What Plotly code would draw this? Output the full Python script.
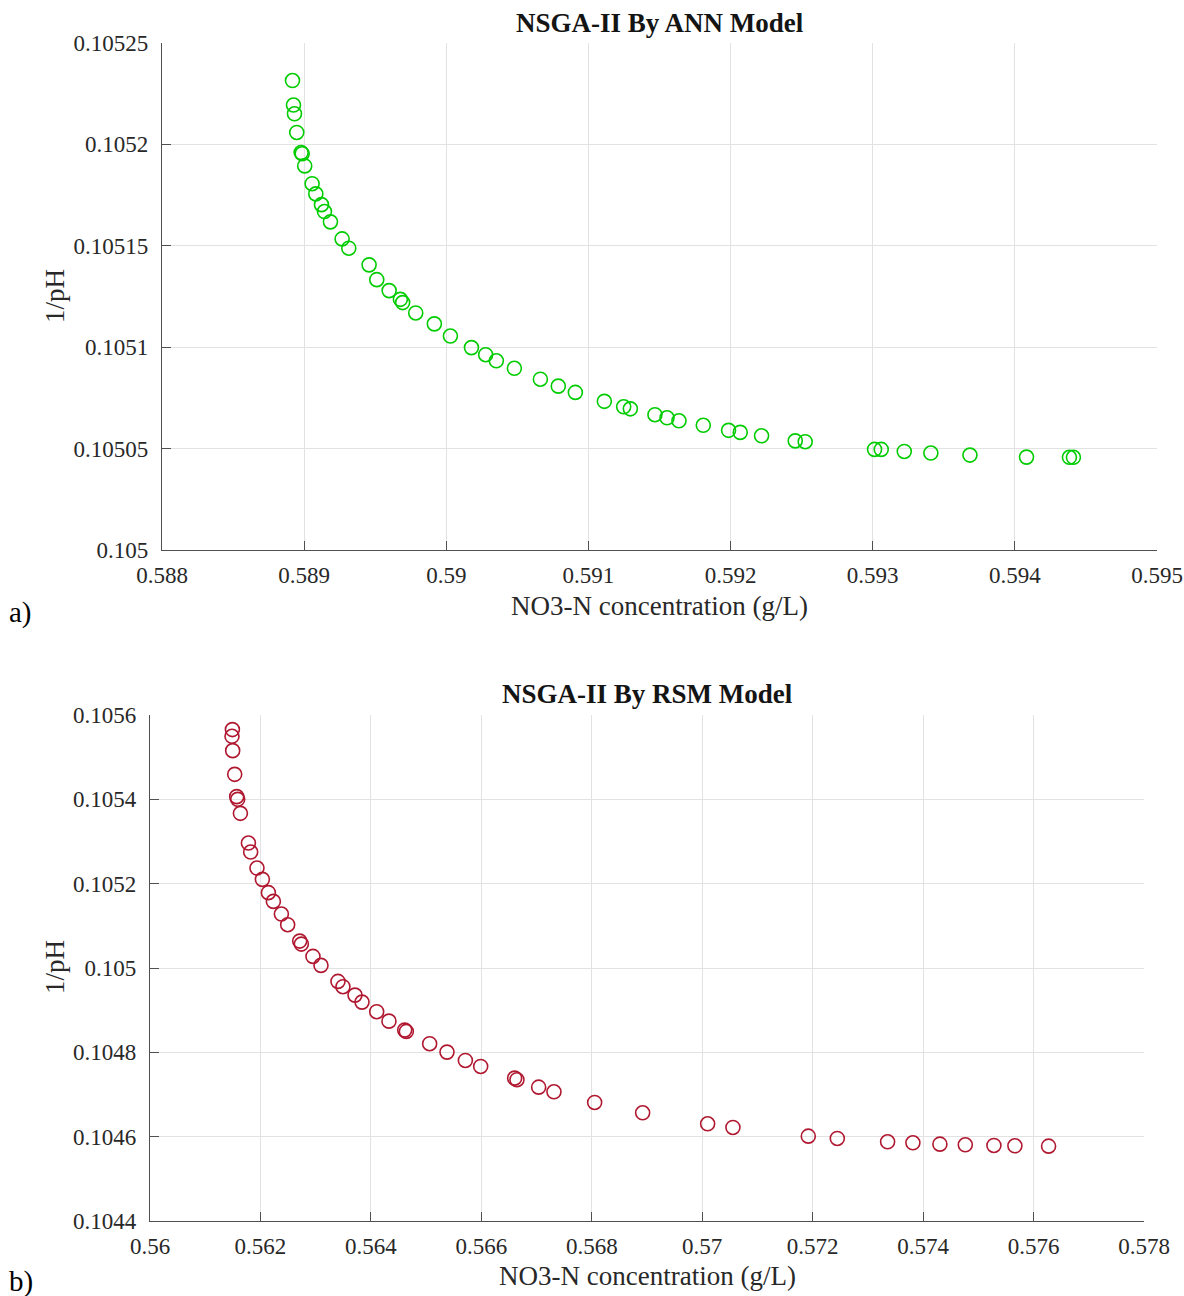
import plotly.graph_objects as go

# ---------------- Data: (a) NSGA-II by ANN model ----------------
ann_no3 = [0.588918, 0.588925, 0.588932, 0.588948, 0.588979, 0.588986, 0.589004,
           0.589056, 0.589082, 0.589122, 0.589143, 0.589185, 0.589267, 0.589314,
           0.589457, 0.589511, 0.589598, 0.589677, 0.589693, 0.589785, 0.589916,
           0.590029, 0.590177, 0.590277, 0.590352, 0.590479, 0.590662, 0.590788,
           0.590908, 0.591112, 0.591248, 0.591295, 0.591468, 0.591553, 0.591637,
           0.591808, 0.591986, 0.592068, 0.592218, 0.592455, 0.592525, 0.593013,
           0.593060, 0.593222, 0.593409, 0.593684, 0.594082, 0.594384, 0.594412]
ann_inv_ph = [0.1052315, 0.1052194, 0.1052151, 0.1052059, 0.1051960, 0.1051954, 0.1051894,
              0.1051806, 0.1051756, 0.1051703, 0.1051669, 0.1051618, 0.1051534, 0.1051488,
              0.1051406, 0.1051333, 0.1051279, 0.1051236, 0.1051220, 0.1051169, 0.1051115,
              0.1051055, 0.1050998, 0.1050963, 0.1050933, 0.1050896, 0.1050842, 0.1050808,
              0.1050777, 0.1050733, 0.1050706, 0.1050696, 0.1050667, 0.1050652, 0.1050637,
              0.1050615, 0.1050590, 0.1050580, 0.1050563, 0.1050538, 0.1050534, 0.1050496,
              0.1050496, 0.1050486, 0.1050478, 0.1050468, 0.1050458, 0.1050457, 0.1050457]

# ---------------- Data: (b) NSGA-II by RSM model ----------------
rsm_no3 = [0.561492, 0.561485, 0.561497, 0.561534, 0.561570, 0.561588, 0.561637,
           0.561782, 0.561823, 0.561937, 0.562035, 0.562144, 0.562234, 0.562379,
           0.562493, 0.562711, 0.562741, 0.562951, 0.563096, 0.563404, 0.563494,
           0.563712, 0.563839, 0.564105, 0.564327, 0.564612, 0.564642, 0.565064,
           0.565378, 0.565711, 0.565988, 0.566603, 0.566645, 0.567038, 0.567315,
           0.568052, 0.568921, 0.570098, 0.570556, 0.571921, 0.572446, 0.573357,
           0.573815, 0.574304, 0.574764, 0.575282, 0.575662, 0.576272]
rsm_inv_ph = [0.1055654, 0.1055495, 0.1055155, 0.1054593, 0.1054064, 0.1054000, 0.1053668,
              0.1052963, 0.1052750, 0.1052370, 0.1052102, 0.1051787, 0.1051580, 0.1051279,
              0.1051027, 0.1050638, 0.1050567, 0.1050275, 0.1050062, 0.1049682, 0.1049556,
              0.1049357, 0.1049191, 0.1048963, 0.1048740, 0.1048527, 0.1048496, 0.1048204,
              0.1048005, 0.1047808, 0.1047665, 0.1047388, 0.1047350, 0.1047174, 0.1047065,
              0.1046811, 0.1046567, 0.1046306, 0.1046218, 0.1046012, 0.1045957, 0.1045879,
              0.1045855, 0.1045822, 0.1045808, 0.1045791, 0.1045784, 0.1045775]

# ---------------- Tick labels ----------------
a_xticks = [0.588, 0.589, 0.590, 0.591, 0.592, 0.593, 0.594, 0.595]
a_xlabels = ["0.588", "0.589", "0.59", "0.591", "0.592", "0.593", "0.594", "0.595"]
a_yticks = [0.105, 0.10505, 0.1051, 0.10515, 0.1052, 0.10525]
a_ylabels = ["0.105", "0.10505", "0.1051", "0.10515", "0.1052", "0.10525"]

b_xticks = [0.560, 0.562, 0.564, 0.566, 0.568, 0.570, 0.572, 0.574, 0.576, 0.578]
b_xlabels = ["0.56", "0.562", "0.564", "0.566", "0.568", "0.57", "0.572", "0.574", "0.576", "0.578"]
b_yticks = [0.1044, 0.1046, 0.1048, 0.1050, 0.1052, 0.1054, 0.1056]
b_ylabels = ["0.1044", "0.1046", "0.1048", "0.105", "0.1052", "0.1054", "0.1056"]

titles = ["NSGA-II By ANN Model", "NSGA-II By RSM Model"]
x_title = "NO3-N concentration (g/L)"
y_title = "1/pH"
panel_labels = ["a)", "b)"]

W, H = 1184, 1296
FONT = "Liberation Serif, Times New Roman, serif"
GREEN = "rgb(0,204,0)"
RED = "rgb(176,24,48)"
GRID = "rgb(226,226,226)"
AXC = "rgb(80,80,80)"
TXT = "rgb(40,40,40)"


def px_x(p):
    return p / W


def px_y(p):
    return 1 - p / H


fig = go.Figure()
fig.add_trace(go.Scatter(x=ann_no3, y=ann_inv_ph, mode="markers", xaxis="x", yaxis="y",
                         marker=dict(symbol="circle-open", size=14, color=GREEN,
                                     line=dict(width=1.6, color=GREEN)),
                         showlegend=False))
fig.add_trace(go.Scatter(x=rsm_no3, y=rsm_inv_ph, mode="markers", xaxis="x2", yaxis="y2",
                         marker=dict(symbol="circle-open", size=14, color=RED,
                                     line=dict(width=1.6, color=RED)),
                         showlegend=False))

axis_common = dict(showgrid=True, gridcolor=GRID, gridwidth=1, zeroline=False,
                   showline=True, linecolor=AXC, linewidth=1.3,
                   ticks="inside", ticklen=9, tickcolor=AXC, tickwidth=1.3,
                   tickfont=dict(family=FONT, size=23, color=TXT),
                   mirror=False, tickmode="array", automargin=False)

fig.update_layout(
    width=W, height=H,
    margin=dict(l=0, r=0, t=0, b=0),
    paper_bgcolor="white", plot_bgcolor="white",
    font=dict(family=FONT, color=TXT),
    xaxis=dict(axis_common, domain=[px_x(162), px_x(1157)], anchor="y",
               range=[0.588, 0.595], tickvals=a_xticks, ticktext=a_xlabels,
               ticklabelstandoff=4),
    yaxis=dict(axis_common, domain=[px_y(550), px_y(43)], anchor="x",
               range=[0.105, 0.10525], tickvals=a_yticks, ticktext=a_ylabels,
               ticklabelstandoff=8),
    xaxis2=dict(axis_common, domain=[px_x(150), px_x(1144)], anchor="y2",
                range=[0.560, 0.578], tickvals=b_xticks, ticktext=b_xlabels,
                ticklabelstandoff=4),
    yaxis2=dict(axis_common, domain=[px_y(1221), px_y(715)], anchor="x2",
                range=[0.1044, 0.1056], tickvals=b_yticks, ticktext=b_ylabels,
                ticklabelstandoff=8),
    annotations=[
        dict(text="<b>" + titles[0] + "</b>", x=(px_x(162) + px_x(1157)) / 2, y=px_y(23),
             xref="paper", yref="paper", showarrow=False, xanchor="center", yanchor="middle",
             font=dict(family=FONT, size=27, color="rgb(20,20,20)")),
        dict(text="<b>" + titles[1] + "</b>", x=(px_x(150) + px_x(1144)) / 2, y=px_y(694),
             xref="paper", yref="paper", showarrow=False, xanchor="center", yanchor="middle",
             font=dict(family=FONT, size=27, color="rgb(20,20,20)")),
        dict(text=x_title, x=(px_x(162) + px_x(1157)) / 2, y=px_y(606),
             xref="paper", yref="paper", showarrow=False, xanchor="center", yanchor="middle",
             font=dict(family=FONT, size=27, color=TXT)),
        dict(text=x_title, x=(px_x(150) + px_x(1144)) / 2, y=px_y(1276),
             xref="paper", yref="paper", showarrow=False, xanchor="center", yanchor="middle",
             font=dict(family=FONT, size=27, color=TXT)),
        dict(text=y_title, x=px_x(55), y=px_y(296), textangle=-90,
             xref="paper", yref="paper", showarrow=False, xanchor="center", yanchor="middle",
             font=dict(family=FONT, size=27, color=TXT)),
        dict(text=y_title, x=px_x(55), y=px_y(967), textangle=-90,
             xref="paper", yref="paper", showarrow=False, xanchor="center", yanchor="middle",
             font=dict(family=FONT, size=27, color=TXT)),
        dict(text=panel_labels[0], x=px_x(7), y=px_y(612), xref="paper", yref="paper",
             showarrow=False, xanchor="left", yanchor="middle",
             font=dict(family=FONT, size=29, color="black")),
        dict(text=panel_labels[1], x=px_x(7), y=px_y(1281), xref="paper", yref="paper",
             showarrow=False, xanchor="left", yanchor="middle",
             font=dict(family=FONT, size=29, color="black")),
    ],
)

fig.write_html("out.html")
